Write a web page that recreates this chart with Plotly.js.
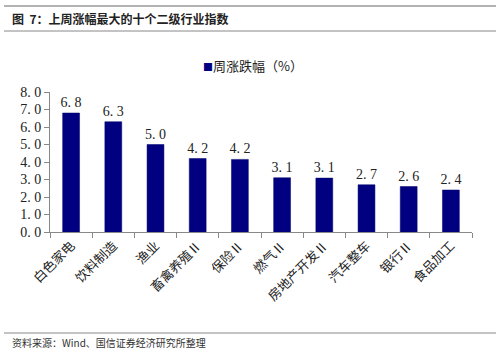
<!DOCTYPE html>
<html><head><meta charset="utf-8">
<script src="https://cdn.plot.ly/plotly-3.0.1.min.js"></script>
<style>html,body{margin:0;padding:0;background:#fff}#chart{width:500px;height:354px}</style>
</head><body><div id="chart"></div>
<script>
const categories = ["白色家电","饮料制造","渔业","畜禽养殖Ⅱ","保险Ⅱ","燃气Ⅱ","房地产开发Ⅱ","汽车整车","银行Ⅱ","食品加工"];
const values = [6.8, 6.3, 5.0, 4.2, 4.15, 3.1, 3.08, 2.7, 2.6, 2.4];
const seriesName = "周涨跌幅（%）";
const yTickVals = [0,1,2,3,4,5,6,7,8];
const yTickText = ["0. 0","1. 0","2. 0","3. 0","4. 0","5. 0","6. 0","7. 0","8. 0"];

const serif = "Liberation Serif, DejaVu Serif, serif";
const cjk = "Noto Sans CJK SC, sans-serif";

const fmt = v => (Math.round(v * 10) / 10).toFixed(1).replace(".", ". ");

const trace = {
  type: "bar", x: categories, y: values, name: seriesName,
  marker: {color: "#000080", line: {color: "#00006a", width: 0.5}},
  width: 0.4,
  text: values.map(fmt), textposition: "outside", constraintext: "none",
  textfont: {family: serif, size: 14, color: "#222"},
  cliponaxis: false, hoverinfo: "skip", showlegend: false
};

const px = X => (X - 50) / 422;
const py = Y => (232 - Y) / 140;

const layout = {
  width: 500, height: 354,
  margin: {l: 50, r: 28, t: 92, b: 122},
  paper_bgcolor: "#fff", plot_bgcolor: "#fff",
  showlegend: false,
  xaxis: {type: "category", showline: true, linecolor: "#888", linewidth: 1,
    ticks: "outside", tickson: "boundaries", ticklen: 5, tickcolor: "#888",
    tickangle: -45, tickfont: {family: cjk, size: 13, color: "#222"}, showgrid: false, zeroline: false},
  yaxis: {range: [0, 8], tickvals: yTickVals, ticktext: yTickText, showline: true, linecolor: "#888",
    linewidth: 1, ticks: "outside", ticklen: 5, tickcolor: "#888", showgrid: false, zeroline: false,
    tickfont: {family: serif, size: 14, color: "#222"}},
  shapes: [
    {type: "line", xref: "paper", yref: "paper", x0: px(4), x1: px(496), y0: py(6), y1: py(6), line: {color: "#666", width: 1}},
    {type: "line", xref: "paper", yref: "paper", x0: px(4), x1: px(496), y0: py(31), y1: py(31), line: {color: "#888", width: 1}},
    {type: "line", xref: "paper", yref: "paper", x0: px(4), x1: px(496), y0: py(333), y1: py(333), line: {color: "#888", width: 1}}
  ],
  annotations: [
    {xref: "paper", yref: "paper", x: px(10), y: py(18), xanchor: "left", yanchor: "middle", showarrow: false,
      text: "<b>图  7：上周涨幅最大的十个二级行业指数</b>", font: {family: cjk, size: 12, color: "#222"}},
    {xref: "paper", yref: "paper", x: px(201), y: py(65), xanchor: "left", yanchor: "middle", showarrow: false,
      text: "<span style='color:#000080;font-size:10px'>■</span>" + seriesName, font: {family: cjk, size: 13, color: "#222"}},
    {xref: "paper", yref: "paper", x: px(10), y: py(342), xanchor: "left", yanchor: "middle", showarrow: false,
      text: "资料来源：Wind、国信证券经济研究所整理", font: {family: cjk, size: 10, color: "#333"}}
  ]
};

Plotly.newPlot("chart", [trace], layout, {displayModeBar: false, staticPlot: true});
</script></body></html>
